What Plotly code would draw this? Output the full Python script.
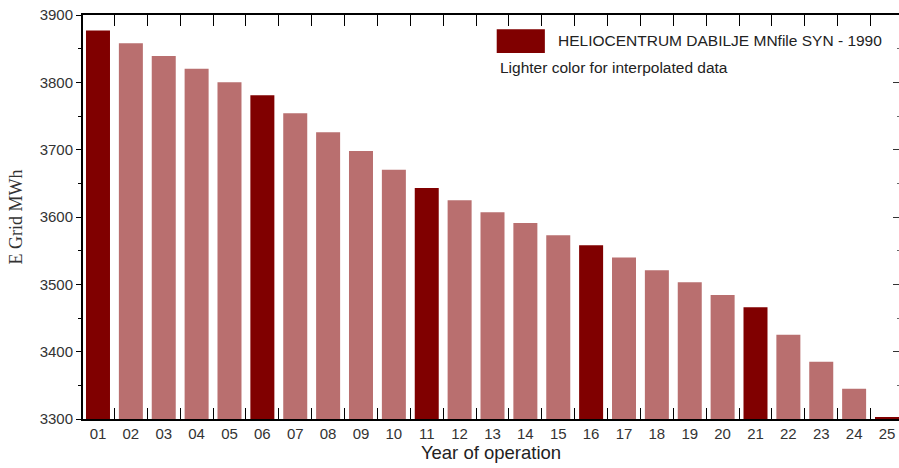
import plotly.graph_objects as go

years = ["01","02","03","04","05","06","07","08","09","10","11","12","13",
         "14","15","16","17","18","19","20","21","22","23","24","25"]
e_grid = [3877, 3858, 3839, 3820, 3800, 3781, 3754, 3726, 3698, 3670, 3643,
          3625, 3607, 3591, 3573, 3558, 3540, 3521, 3503, 3484, 3466, 3425,
          3385, 3345, 3303]
measured = [True, False, False, False, False, True, False, False, False, False, True,
            False, False, False, False, True, False, False, False, False, True,
            False, False, False, True]

DARK = "#800000"
LIGHT = "#B96F6F"
colors = [DARK if m else LIGHT for m in measured]

fig = go.Figure()
fig.add_trace(go.Bar(x=years, y=e_grid, marker=dict(color=colors, line=dict(width=0)),
                     width=0.73, showlegend=False))
# invisible companion trace so the right-hand tick axis is rendered
fig.add_trace(go.Scatter(x=years, y=e_grid, yaxis="y2", mode="markers",
                         marker=dict(opacity=0), hoverinfo="skip", showlegend=False))

fig.update_layout(
    width=899, height=468,
    margin=dict(l=83, r=0, t=15, b=49, autoexpand=False),
    paper_bgcolor="white", plot_bgcolor="white",
    font=dict(family="Liberation Sans, Arial", color="#333333", size=13),
    xaxis=dict(
        type="category", range=[-0.456, 24.365], automargin=False,
        tickson="boundaries", ticks="inside", ticklen=11, tickwidth=1, tickcolor="black",
        showline=True, linecolor="black", linewidth=2, mirror="ticks",
        layer="below traces", showgrid=False,
        tickfont=dict(size=15, color="#333333"),
        title=dict(text="Year of operation", font=dict(size=18.5, color="#222222"), standoff=0),
    ),
    yaxis=dict(
        range=[3300, 3900], tick0=3300, dtick=100, automargin=False,
        ticks="outside", ticklen=5, tickcolor="black",
        showline=True, linecolor="black", linewidth=2,
        showgrid=False, zeroline=False,
        minor=dict(dtick=50, ticks="outside", ticklen=3, tickcolor="black"),
        tickfont=dict(size=15, color="#333333"),
        title=dict(text="E Grid MWh", font=dict(family="Liberation Serif, Times New Roman", size=18, color="#333333"), standoff=12),
    ),
    yaxis2=dict(
        overlaying="y", side="right", matches="y", anchor="x", automargin=False,
        showticklabels=False, showline=False, showgrid=False, zeroline=False,
        ticks="inside", ticklen=6, tickcolor="#333333",
        minor=dict(dtick=50, ticks="inside", ticklen=2, tickcolor="#666666"),
    ),
)

fig.add_shape(type="rect", xref="paper", yref="paper",
              x0=0.507, x1=0.566, y0=0.906, y1=0.965,
              fillcolor=DARK, line=dict(width=0))
fig.add_annotation(xref="paper", yref="paper", x=0.580, y=0.936,
                   xanchor="left", yanchor="middle", showarrow=False,
                   text="HELIOCENTRUM DABILJE MNfile SYN - 1990",
                   font=dict(size=15.5, color="#222222"))
fig.add_annotation(xref="paper", yref="paper", x=0.5086, y=0.869,
                   xanchor="left", yanchor="middle", showarrow=False,
                   text="Lighter color for interpolated data",
                   font=dict(size=15.5, color="#222222"))

fig.write_html("out.html", config={"displayModeBar": False},
               post_script="document.body.style.margin='0';document.body.style.overflow='hidden';")
